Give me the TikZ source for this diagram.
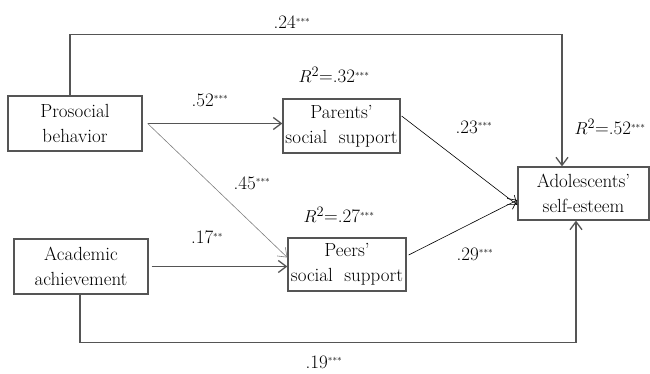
\documentclass[tikz,border=0pt]{standalone}
\usepackage{xcolor}
\usepackage{amsmath}
\usepackage{tikz}
\usetikzlibrary{positioning, arrows.meta}

\definecolor{linegray}{HTML}{555555}
\newcommand{\sig}[1]{$^{\scriptscriptstyle #1}$}

\begin{document}
\begin{tikzpicture}[x=1pt, y=1pt,
        box/.style={rectangle, draw=linegray, line width=1.3pt, align=center,
                    inner sep=0pt, font=\fontsize{19}{25}\selectfont},
        arrow/.style={-{Straight Barb[length=8pt, width=12pt]}, draw=linegray, line width=1.3pt},
        thinarrow/.style={-{Straight Barb[length=8pt, width=12pt]}, line width=0.6pt},
        coef/.style={font=\fontsize{19}{20}\selectfont}]

        \useasboundingbox (0,0) rectangle (650,373);

        \node[box, minimum width=134, minimum height=55] (pro)  at (75,249.5)   {Prosocial\\behavior};
        \node[box, minimum width=117, minimum height=54] (par)  at (341.5,247)  {Parents'\\social\ \ support};
        \node[box, minimum width=131, minimum height=53] (ado)  at (583.5,179.5) {Adolescents'\\self-esteem};
        \node[box, minimum width=134, minimum height=55] (aca)  at (81,106.5)   {Academic\\achievement};
        \node[box, minimum width=118, minimum height=53] (peer) at (347,108.5)  {Peers'\\social\ \ support};

        \coordinate (pa) at ([xshift=5pt]pro.east);

        \draw[arrow] ([xshift=-5pt]pro.north) -- ++(0,61) -| ([xshift=-21.5pt]ado.north);
        \draw[arrow] ([xshift=-1pt]aca.south) -- ++(0,-48) -| ([xshift=-7.5pt]ado.south);
        \draw[arrow] (pa) -- (pa -| par.west);
        \draw[thinarrow, draw=gray] (pa) -- ([yshift=7pt]peer.west);
        \draw[arrow, shorten <=3pt] (aca.east) -- (aca.east -| peer.west);
        \draw[thinarrow] ([xshift=1pt, yshift=10pt]par.east) -- ([yshift=-11.5pt]ado.west);
        \draw[thinarrow] ([xshift=2pt, yshift=9.5pt]peer.east) -- ([yshift=-6.5pt]ado.west);

        \node[coef] (c24)  at (292,351)   {.24\sig{***}};
        \node[coef] (r32)  at (334,298)   {$R^2$=.32\sig{***}};
        \node[coef] (c52)  at (210,273)   {.52\sig{***}};
        \node[coef] (c23)  at (474,246)   {.23\sig{***}};
        \node[coef, anchor=east] (r52) at (649,246) {$R^2$=.52\sig{***}};
        \node[coef] (c45)  at (252,190)   {.45\sig{***}};
        \node[coef] (r27)  at (339,158)   {$R^2$=.27\sig{***}};
        \node[coef] (c17)  at (207,136)   {.17\sig{**}};
        \node[coef] (c29)  at (475,119)   {.29\sig{***}};
        \node[coef] (c19)  at (324,11)    {.19\sig{***}};
    \end{tikzpicture}
\end{document}
